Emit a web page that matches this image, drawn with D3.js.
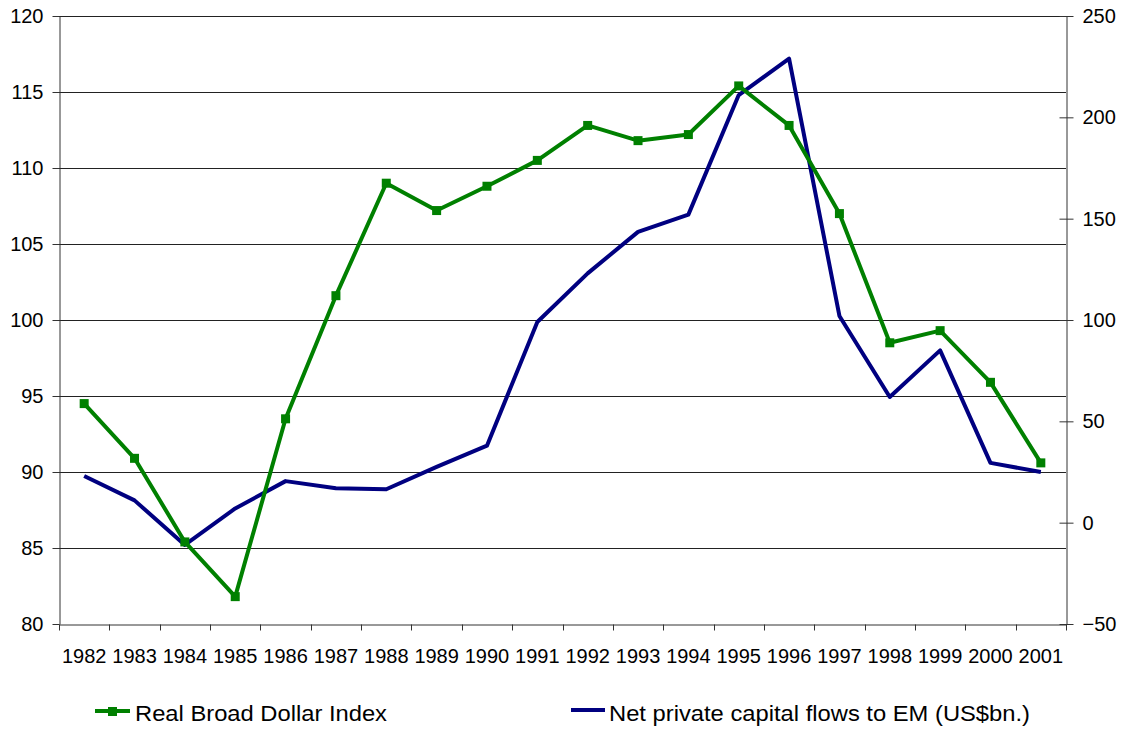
<!DOCTYPE html>
<html>
<head>
<meta charset="utf-8">
<script src="https://cdn.jsdelivr.net/npm/d3@7"></script>
<style>
  body { margin: 0; background: #fff; }
  text { font-family: "Liberation Sans", Arial, sans-serif; }
</style>
</head>
<body>
<svg id="chart" width="1127" height="729"></svg>
<script>
// years on the x axis
const years = ["1982", "1983", "1984", "1985", "1986", "1987", "1988", "1989", "1990", "1991",
  "1992", "1993", "1994", "1995", "1996", "1997", "1998", "1999", "2000", "2001"];

// Real Broad Dollar Index (left axis)
const dollarIndex = [94.5, 90.9, 85.4, 81.8, 93.5, 101.6, 109.0, 107.2, 108.8, 110.5,
  112.8, 111.8, 112.2, 115.4, 112.8, 107.0, 98.5, 99.3, 95.9, 90.6];

// Net private capital flows to EM, US$bn (right axis)
const capitalFlows = [23, 11, -11, 7, 20.5, 17, 16.5, 27.5, 38, 99,
  123, 143.5, 152, 211, 229, 102, 62, 85, 29.5, 25];

const leftTicks = [80, 85, 90, 95, 100, 105, 110, 115, 120];
const rightTicks = [-50, 0, 50, 100, 150, 200, 250];

const svg = d3.select("svg#chart");
const plotLeft = 59, plotRight = 1066, plotTop = 16, plotBottom = 624;

const xScale = d3.scaleBand().domain(years).range([plotLeft, plotRight]);
const yLeft = d3.scaleLinear().domain([80, 120]).range([plotBottom, plotTop]);
const yRight = d3.scaleLinear().domain([-50, 250]).range([plotBottom, plotTop]);

// gridlines
svg.append("g")
  .selectAll("line")
  .data(leftTicks.slice(1))
  .enter()
  .append("line")
  .attr("x1", plotLeft)
  .attr("x2", plotRight)
  .attr("y1", d => Math.round(yLeft(d)) + 0.5)
  .attr("y2", d => Math.round(yLeft(d)) + 0.5)
  .attr("stroke", "#222")
  .attr("stroke-width", 1);

// left axis
const leftAxis = svg.append("g")
  .attr("transform", `translate(${plotLeft + 0.5},0)`)
  .call(d3.axisLeft(yLeft).tickValues(leftTicks).tickSize(7).tickPadding(9).tickSizeOuter(0));

// right axis, ticks cross the line
const rightAxis = svg.append("g")
  .attr("transform", `translate(${plotRight + 0.5},0)`)
  .call(d3.axisRight(yRight).tickValues(rightTicks).tickSize(7).tickPadding(9).tickSizeOuter(0));
rightAxis.selectAll(".tick line").attr("x1", -7);

// bottom axis, ticks between categories
const bottomAxis = svg.append("g")
  .attr("transform", `translate(0,${plotBottom + 0.5})`)
  .call(d3.axisBottom(xScale).tickSize(0).tickPadding(24).tickSizeOuter(0));
bottomAxis.selectAll(".tick line").remove();
bottomAxis.selectAll(".boundary")
  .data(d3.range(years.length + 1))
  .enter()
  .append("line")
  .attr("x1", i => Math.round(plotLeft + i * xScale.bandwidth()) + 0.5)
  .attr("x2", i => Math.round(plotLeft + i * xScale.bandwidth()) + 0.5)
  .attr("y1", 0)
  .attr("y2", 6)
  .attr("stroke", "#333");

[leftAxis, rightAxis, bottomAxis].forEach(ax => {
  ax.select(".domain").attr("stroke", "#333");
  ax.selectAll(".tick line").attr("stroke", "#333");
  ax.selectAll("text")
    .attr("fill", "#000")
    .style("font-size", "20px")
    .style("font-family", "'Liberation Sans', Arial, sans-serif");
});

const cx = (d, i) => xScale(years[i]) + xScale.bandwidth() / 2;

// blue line
svg.append("path")
  .datum(capitalFlows)
  .attr("fill", "none")
  .attr("stroke", "#000080")
  .attr("stroke-width", 4)
  .attr("stroke-linejoin", "round")
  .attr("d", d3.line().x(cx).y(d => yRight(d)));

// green line with square markers
svg.append("path")
  .datum(dollarIndex)
  .attr("fill", "none")
  .attr("stroke", "#008000")
  .attr("stroke-width", 4)
  .attr("stroke-linejoin", "round")
  .attr("d", d3.line().x(cx).y(d => yLeft(d)));

svg.selectAll("rect.points")
  .data(dollarIndex)
  .enter()
  .append("rect")
  .attr("class", "points")
  .attr("x", (d, i) => cx(d, i) - 4.5)
  .attr("y", d => yLeft(d) - 4.5)
  .attr("width", 9)
  .attr("height", 9)
  .attr("fill", "#008000");

// legend
const legend = svg.append("g");
legend.append("line")
  .attr("x1", 95).attr("x2", 130).attr("y1", 711).attr("y2", 711)
  .attr("stroke", "#008000").attr("stroke-width", 4);
legend.append("rect")
  .attr("x", 108).attr("y", 707).attr("width", 9).attr("height", 9)
  .attr("fill", "#008000");
legend.append("text")
  .attr("x", 135).attr("y", 721)
  .attr("textLength", 252)
  .attr("lengthAdjust", "spacingAndGlyphs")
  .style("font-size", "22px")
  .text("Real Broad Dollar Index");

legend.append("line")
  .attr("x1", 571).attr("x2", 605).attr("y1", 710).attr("y2", 710)
  .attr("stroke", "#000080").attr("stroke-width", 4);
legend.append("text")
  .attr("x", 609).attr("y", 721)
  .attr("textLength", 421)
  .attr("lengthAdjust", "spacingAndGlyphs")
  .style("font-size", "22px")
  .text("Net private capital flows to EM (US$bn.)");
</script>
</body>
</html>
